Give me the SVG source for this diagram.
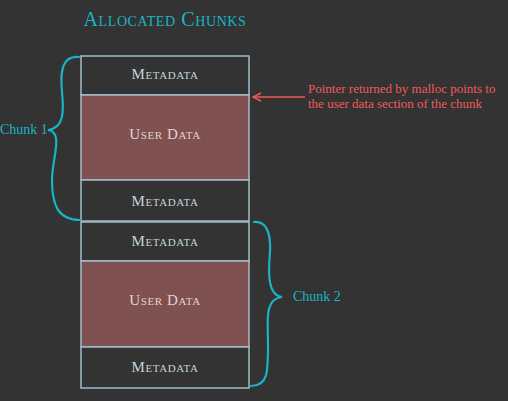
<svg xmlns="http://www.w3.org/2000/svg" width="508" height="401" viewBox="0 0 508 401">
<defs>
<style>
.box{stroke:#a3bcc8;stroke-width:1.5}
.meta{fill:#333333}
.user{fill:#7f5150}
.lbl{font-family:"Liberation Serif",serif;font-variant:small-caps;font-size:15px;fill:#c3d3da;text-anchor:middle;letter-spacing:0.6px}
.ulbl{fill:#e2d2d2}
.brace{fill:none;stroke:#1ab3c3;stroke-width:2.2;stroke-linecap:round}
.chunk{font-family:"Liberation Serif",serif;font-size:14px;fill:#1ab3c3}
.note{font-family:"Liberation Serif",serif;font-size:13px;fill:#f05a5a}
</style>
<marker id="ah" viewBox="0 0 10 10" refX="9" refY="5" markerWidth="10" markerHeight="10" markerUnits="userSpaceOnUse" orient="auto">
<path d="M1,1 L9,5 L1,9" fill="none" stroke="#f05a5a" stroke-width="1.5"/>
</marker>
</defs>
<rect width="508" height="401" fill="#333333"/>
<text x="165" y="26" font-family="Liberation Serif,serif" font-variant="small-caps" font-size="20" fill="#1ab3c3" text-anchor="middle" letter-spacing="0.6">Allocated Chunks</text>
<g id="meta1"><rect class="box meta" x="81" y="56" width="168" height="39"/><text class="lbl" x="165" y="79">Metadata</text></g>
<g id="user1"><rect class="box user" x="81" y="95" width="168" height="85"/><text class="lbl ulbl" x="165" y="139">User Data</text></g>
<g id="meta2"><rect class="box meta" x="81" y="180" width="168" height="41"/><text class="lbl" x="165" y="206">Metadata</text></g>
<g id="meta3"><rect class="box meta" x="81" y="222" width="168" height="39"/><text class="lbl" x="165" y="246">Metadata</text></g>
<g id="user2"><rect class="box user" x="81" y="261" width="168" height="86"/><text class="lbl ulbl" x="165" y="305">User Data</text></g>
<g id="meta4"><rect class="box meta" x="81" y="347" width="168" height="41"/><text class="lbl" x="165" y="372">Metadata</text></g>
<g id="chunk1"><text class="chunk" x="0" y="134" font-size="13.5">Chunk 1</text></g>
<g id="chunk2"><text class="chunk" x="293" y="301">Chunk 2</text></g>
<g id="note"><text class="note" x="308" y="93">Pointer returned by malloc points to</text><text class="note" x="308" y="108">the user data section of the chunk</text></g>
<g id="connectors">
<path class="brace" d="M79,57 C62,55 60,72 62,92 C64,112 64,128 48,130 C64,132 52,158 52,180 C52,205 58,220 80,220"/>
<path class="brace" d="M254,222 C266,221 271,232 270,252 C268,275 268,295 282,297 C264,299 268,320 268,345 C268,372 268,386 251,386"/>
<line x1="305" y1="97" x2="253" y2="97" stroke="#f05a5a" stroke-width="1.5" marker-end="url(#ah)"/>
</g>
</svg>
